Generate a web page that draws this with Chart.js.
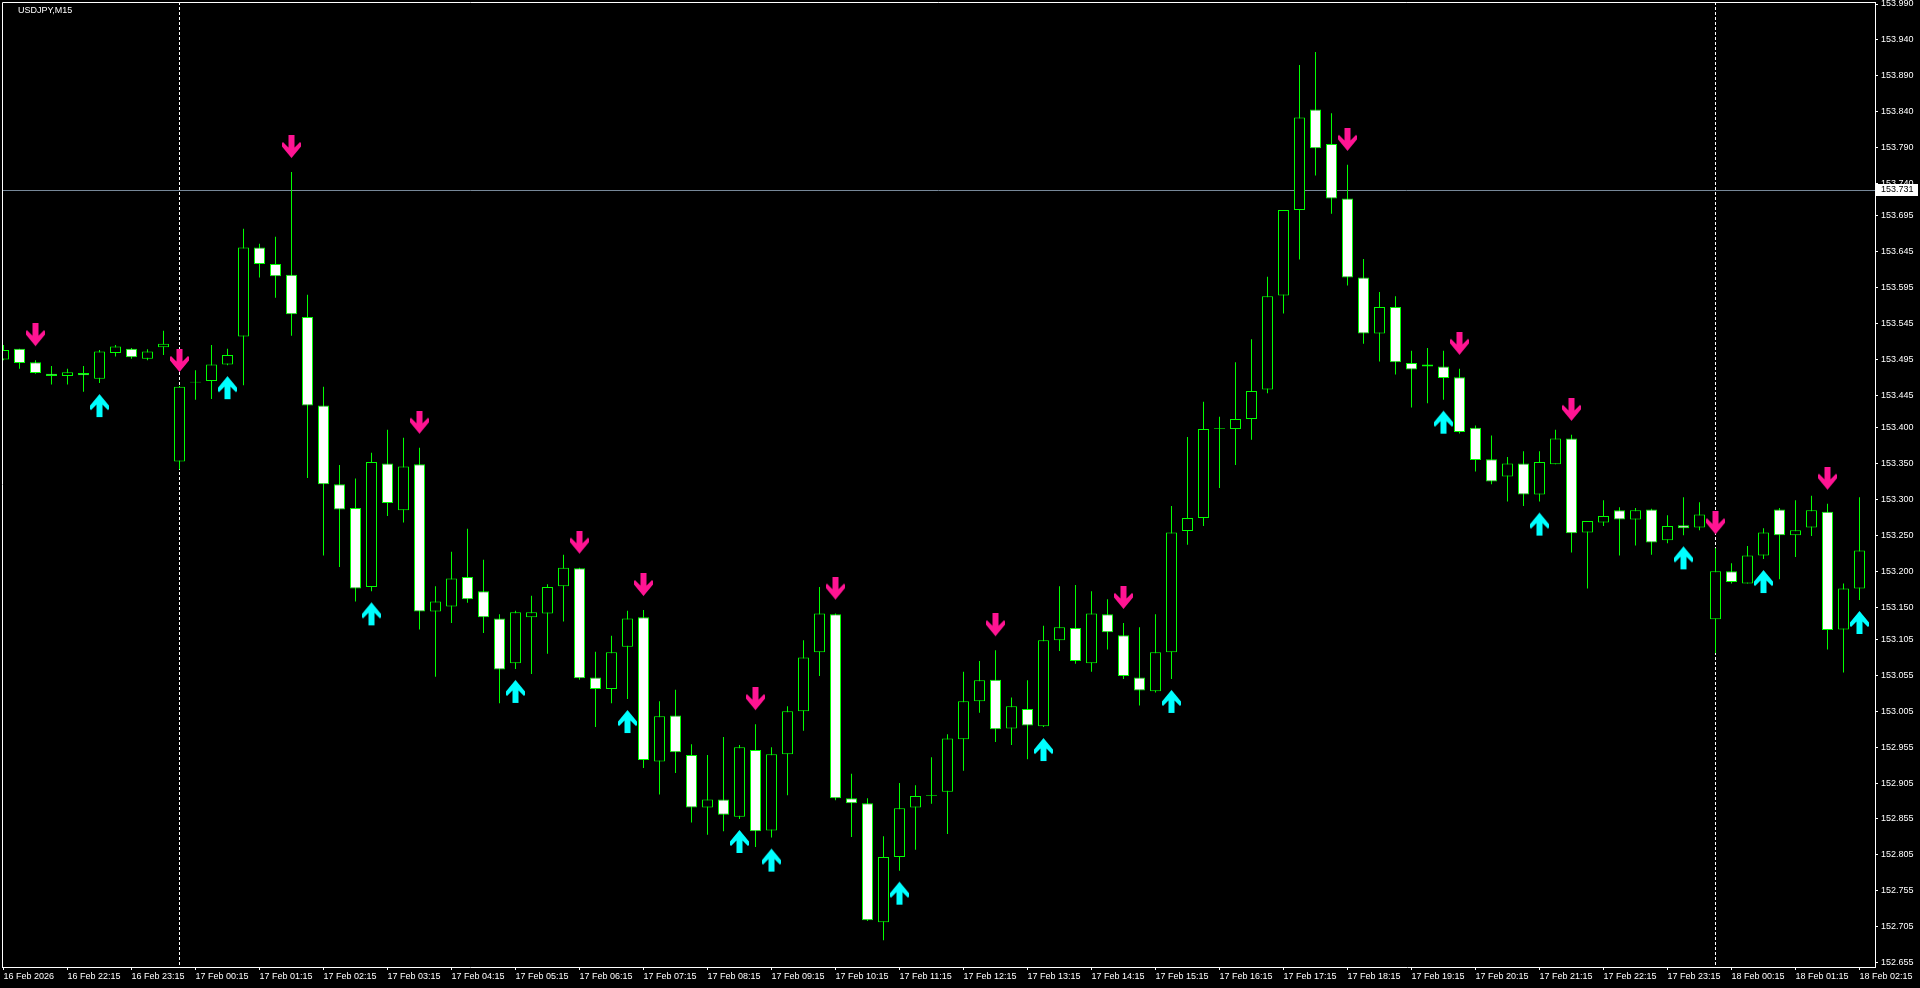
<!DOCTYPE html>
<html>
<head>
<meta charset="utf-8">
<title>USDJPY,M15</title>
<script src="https://cdn.jsdelivr.net/npm/chart.js@4.4.1/dist/chart.umd.min.js"></script>
<style>
  html, body { margin: 0; padding: 0; background: #000; overflow: hidden; }
  canvas { display: block; }
</style>
</head>
<body>
<canvas id="grafica" width="1920" height="988"></canvas>
<script>
"use strict"

var simbolo = "USDJPY,M15";

// velas M15, desde 16 Feb 21:15 hasta 18 Feb 02:15
var apertura = [
  153.495,153.510,153.491,153.475,153.472,153.476,153.468,153.504,153.510,153.496,
  153.512,153.353,153.463,153.465,153.488,153.527,153.651,153.628,153.613,153.554,
  153.431,153.321,153.288,153.178,153.350,153.285,153.349,153.144,153.151,153.192,
  153.172,153.134,153.072,153.136,153.141,153.179,153.204,153.052,153.036,153.095,
  153.136,152.935,152.999,152.944,152.871,152.882,152.858,152.951,152.839,152.945,
  153.005,153.087,153.140,152.884,152.877,152.711,152.802,152.871,152.887,152.893,
  152.966,153.019,153.049,152.981,153.008,152.984,153.104,153.121,153.072,153.140,
  153.111,153.052,153.033,153.087,153.256,153.274,153.398,153.398,153.412,153.453,
  153.584,153.703,153.843,153.795,153.719,153.609,153.531,153.568,153.490,153.488,
  153.485,153.470,153.400,153.356,153.332,153.350,153.307,153.349,153.385,153.254,
  153.268,153.285,153.272,153.286,153.243,153.264,153.261,153.133,153.200,153.183,
  153.222,153.286,153.250,153.261,153.283,153.119,153.176
];
var maximo = [
  153.515,153.510,153.494,153.486,153.482,153.486,153.508,153.515,153.511,153.509,
  153.535,153.458,153.480,153.515,153.510,153.677,153.656,153.666,153.756,153.585,
  153.457,153.348,153.329,153.365,153.397,153.386,153.372,153.179,153.227,153.259,
  153.216,153.140,153.145,153.166,153.182,153.223,153.205,153.088,153.110,153.145,
  153.146,153.019,153.035,152.959,152.944,152.969,152.958,152.987,152.955,153.012,
  153.104,153.178,153.141,152.918,152.884,152.831,152.905,152.902,152.941,152.973,
  153.060,153.075,153.090,153.024,153.048,153.124,153.179,153.181,153.172,153.161,
  153.128,153.122,153.140,153.291,153.387,153.436,153.415,153.491,153.523,153.610,
  153.703,153.905,153.923,153.838,153.766,153.635,153.589,153.583,153.507,153.511,
  153.507,153.482,153.403,153.389,153.359,153.367,153.367,153.397,153.390,153.270,
  153.299,153.289,153.288,153.287,153.278,153.303,153.296,153.232,153.211,153.235,
  153.260,153.288,153.299,153.305,153.294,153.183,153.303
];
var minimo = [
  153.494,153.482,153.475,153.460,153.460,153.450,153.462,153.499,153.496,153.494,
  153.501,153.342,153.439,153.440,153.487,153.459,153.609,153.581,153.528,153.330,
  153.222,153.206,153.158,153.172,153.277,153.268,153.119,153.053,153.128,153.156,
  153.114,153.016,153.064,153.057,153.085,153.130,153.049,152.983,153.016,153.022,
  152.926,152.889,152.919,152.850,152.833,152.838,152.855,152.816,152.829,152.888,
  152.978,153.054,152.881,152.830,152.713,152.686,152.783,152.812,152.876,152.834,
  152.922,153.003,152.962,152.958,152.938,152.983,153.089,153.071,153.060,153.091,
  153.050,153.013,153.031,153.050,153.237,153.263,153.316,153.348,153.383,153.448,
  153.559,153.634,153.751,153.698,153.598,153.517,153.492,153.474,153.428,153.434,
  153.439,153.392,153.339,153.321,153.297,153.291,153.297,153.349,153.226,153.176,
  153.263,153.222,153.236,153.223,153.239,153.250,153.257,153.086,153.183,153.183,
  153.217,153.189,153.220,153.249,153.091,153.059,153.160
];
var cierre = [
  153.508,153.490,153.476,153.472,153.477,153.473,153.506,153.513,153.498,153.506,
  153.517,153.457,153.464,153.488,153.501,153.651,153.628,153.611,153.558,153.431,
  153.321,153.286,153.176,153.352,153.295,153.346,153.144,153.158,153.190,153.161,
  153.136,153.063,153.143,153.143,153.178,153.205,153.051,153.036,153.087,153.134,
  152.937,152.998,152.948,152.871,152.882,152.861,152.955,152.838,152.945,153.005,
  153.080,153.141,152.884,152.877,152.714,152.802,152.870,152.887,152.888,152.967,
  153.019,153.048,152.980,153.012,152.985,153.104,153.122,153.075,153.141,153.115,
  153.054,153.034,153.087,153.254,153.274,153.398,153.399,153.412,153.451,153.583,
  153.703,153.832,153.789,153.719,153.609,153.531,153.568,153.491,153.481,153.485,
  153.469,153.394,153.355,153.325,153.350,153.307,153.352,153.385,153.253,153.270,
  153.277,153.272,153.285,153.240,153.263,153.260,153.279,153.200,153.185,153.222,
  153.254,153.250,153.257,153.285,153.118,153.176,153.229
];

// flechas del indicador (indice de vela)
var senalesVenta = [2, 11, 18, 26, 36, 40, 47, 52, 62, 70, 84, 91, 98, 107, 114];
var senalesCompra = [6, 14, 23, 32, 39, 46, 48, 56, 65, 73, 90, 96, 105, 110, 116];

// separadores de dia y linea bid
var separadores = [11, 107];
var precioBid = 153.731;

// etiquetas del eje de tiempo, una cada 4 velas
var etiquetasTiempo = [
  "16 Feb 2026","16 Feb 22:15","16 Feb 23:15","17 Feb 00:15","17 Feb 01:15","17 Feb 02:15",
  "17 Feb 03:15","17 Feb 04:15","17 Feb 05:15","17 Feb 06:15","17 Feb 07:15","17 Feb 08:15",
  "17 Feb 09:15","17 Feb 10:15","17 Feb 11:15","17 Feb 12:15","17 Feb 13:15","17 Feb 14:15",
  "17 Feb 15:15","17 Feb 16:15","17 Feb 17:15","17 Feb 18:15","17 Feb 19:15","17 Feb 20:15",
  "17 Feb 21:15","17 Feb 22:15","17 Feb 23:15","18 Feb 00:15","18 Feb 01:15","18 Feb 02:15"
];
var pasoTiempo = 4;

// etiquetas del eje de precios
var nivelesPrecio = [
  153.990,153.940,153.890,153.840,153.790,153.740,153.695,153.645,153.595,153.545,
  153.495,153.445,153.400,153.350,153.300,153.250,153.200,153.150,153.105,153.055,
  153.005,152.955,152.905,152.855,152.805,152.755,152.705,152.655
];
var precioMin = 152.6488;
var precioMax = 153.9928;

var verde = '#00ff00';
var fuente = "'Liberation Sans', Arial, sans-serif";

function hacerFlecha(color, haciaAbajo) {
    var c = document.createElement('canvas');
    c.width = 19;
    c.height = haciaAbajo ? 74 : 70;
    var g = c.getContext('2d');
    var forma = [[6.5,0],[12.5,0],[12.5,12.5],[18,7],[19,8],[19,11.5],[9.5,23],[0,11.5],[0,8],[1,7],[6.5,12.5]];
    var dy = haciaAbajo ? 0 : 46;
    g.fillStyle = color;
    g.beginPath();
    forma.forEach(function(p, k) {
        var py = (haciaAbajo ? p[1] : 23 - p[1]) + dy;
        if (k === 0) g.moveTo(p[0], py); else g.lineTo(p[0], py);
    });
    g.closePath();
    g.fill();
    return c;
}

var flechaAbajo = hacerFlecha('#ff1493', true);
var flechaArriba = hacerFlecha('#00ffff', false);

var indices = apertura.map(function(v, i) { return i; });

var mechas = indices.map(function(i) { return { x: i, y: [minimo[i], maximo[i]] }; });
var cuerpos = indices.map(function(i) { return { x: i, y: [apertura[i], cierre[i]] }; });
var rellenos = indices.map(function(i) { return cierre[i] >= apertura[i] ? '#000000' : '#ffffff'; });

var marcoMT4 = {
    id: 'marcoMT4',
    beforeDraw: function(chart) {
        var ctx = chart.ctx;
        ctx.save();
        ctx.fillStyle = '#000';
        ctx.fillRect(0, 0, chart.width, chart.height);
        ctx.restore();
    },
    beforeDatasetsDraw: function(chart) {
        var ctx = chart.ctx;
        var area = chart.chartArea;
        var ex = chart.scales.x, ey = chart.scales.y;
        ctx.save();
        ctx.strokeStyle = '#ffffff';
        ctx.lineWidth = 1;
        ctx.setLineDash([3, 2]);
        separadores.forEach(function(i) {
            var px = Math.floor(ex.getPixelForValue(i)) + 0.5;
            ctx.beginPath();
            ctx.moveTo(px, area.top);
            ctx.lineTo(px, area.bottom);
            ctx.stroke();
        });
        ctx.setLineDash([]);
        var py = Math.round(ey.getPixelForValue(precioBid)) + 0.5;
        ctx.strokeStyle = '#778899';
        ctx.beginPath();
        ctx.moveTo(area.left, py);
        ctx.lineTo(area.right, py);
        ctx.stroke();
        ctx.restore();
    },
    afterDraw: function(chart) {
        var ctx = chart.ctx;
        var area = chart.chartArea;
        var ey = chart.scales.y;
        ctx.save();
        // marco izquierdo y superior
        ctx.strokeStyle = '#ffffff';
        ctx.lineWidth = 1;
        ctx.beginPath();
        ctx.moveTo(area.left + 0.5, area.bottom);
        ctx.lineTo(area.left + 0.5, area.top + 0.5);
        ctx.lineTo(area.right, area.top + 0.5);
        ctx.stroke();
        // etiqueta del precio bid
        var py = Math.round(ey.getPixelForValue(precioBid));
        ctx.fillStyle = '#ffffff';
        ctx.fillRect(area.right + 1, py - 6, 42, 12);
        ctx.fillStyle = '#000000';
        ctx.font = '9px ' + fuente;
        ctx.textBaseline = 'middle';
        ctx.textAlign = 'left';
        ctx.fillText(precioBid.toFixed(3), area.right + 6, py);
        // simbolo
        ctx.fillStyle = '#ffffff';
        ctx.fillText(simbolo, 18, 11);
        ctx.restore();
    }
};

Chart.defaults.font.family = fuente;
Chart.defaults.font.size = 9;
Chart.defaults.color = '#ffffff';

new Chart(document.getElementById('grafica'), {
    type: 'bar',
    data: {
        datasets: [
            {
                type: 'scatter',
                data: senalesVenta.map(function(i) { return { x: i, y: maximo[i] }; }),
                pointStyle: flechaAbajo,
                pointRadius: 5,
                order: 1
            },
            {
                type: 'scatter',
                data: senalesCompra.map(function(i) { return { x: i, y: minimo[i] }; }),
                pointStyle: flechaArriba,
                pointRadius: 5,
                order: 1
            },
            {
                data: cuerpos,
                backgroundColor: rellenos,
                borderColor: verde,
                borderWidth: 1,
                borderSkipped: false,
                inflateAmount: 0,
                barThickness: 11,
                grouped: false,
                order: 2
            },
            {
                data: mechas,
                backgroundColor: verde,
                borderWidth: 0,
                inflateAmount: 0,
                barThickness: 1,
                grouped: false,
                order: 3
            }
        ]
    },
    options: {
        responsive: false,
        animation: false,
        devicePixelRatio: 1,
        events: [],
        layout: { autoPadding: false, padding: { left: 2, top: 2, right: 0, bottom: 0 } },
        plugins: {
            legend: { display: false },
            tooltip: { enabled: false },
            title: { display: false }
        },
        scales: {
            x: {
                type: 'linear',
                min: -0.09375,
                max: 116.96875,
                offset: false,
                grid: { display: true, drawOnChartArea: false, drawTicks: true, tickLength: 3, color: '#ffffff', offset: false },
                border: { display: true, color: '#ffffff' },
                ticks: {
                    autoSkip: false,
                    maxRotation: 0,
                    minRotation: 0,
                    align: 'start',
                    padding: 1,
                    color: '#ffffff',
                    callback: function(v, k) { return etiquetasTiempo[k]; }
                },
                afterBuildTicks: function(escala) {
                    escala.ticks = etiquetasTiempo.map(function(t, k) { return { value: k * pasoTiempo }; });
                },
                afterFit: function(escala) {
                    escala.height = 21;
                    escala.paddingLeft = 0;
                    escala.paddingRight = 0;
                }
            },
            y: {
                type: 'linear',
                position: 'right',
                min: precioMin,
                max: precioMax,
                grid: { display: true, drawOnChartArea: false, drawTicks: true, tickLength: 3, color: '#ffffff' },
                border: { display: true, color: '#ffffff' },
                ticks: {
                    autoSkip: false,
                    padding: 3,
                    color: '#ffffff',
                    callback: function(v) { return Number(v).toFixed(3); }
                },
                afterBuildTicks: function(escala) {
                    escala.ticks = nivelesPrecio.map(function(v) { return { value: v }; });
                },
                afterFit: function(escala) {
                    escala.width = 45;
                    escala.paddingTop = 0;
                    escala.paddingBottom = 0;
                }
            }
        }
    },
    plugins: [marcoMT4]
});
</script>
</body>
</html>
